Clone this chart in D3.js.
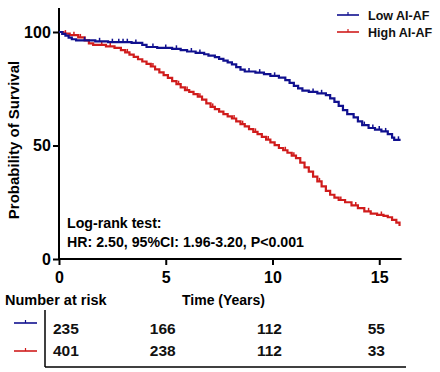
<!DOCTYPE html>
<html><head><meta charset="utf-8">
<script src="https://cdn.jsdelivr.net/npm/d3@7"></script>
<style>html,body{margin:0;padding:0;background:#fff}svg{display:block}</style>
</head><body><svg id="c" width="440" height="372"></svg>
<script>
// ---- data ----
const seriesNames = ["Low AI-AF", "High AI-AF"];
const lowTimes = [0,0.15,0.3,0.45,0.6,0.8,1.7,2.3,3.4,3.9,4.1,4.6,5.3,5.7,6.0,6.4,6.8,7.0,7.3,7.5,7.7,7.9,8.1,8.3,8.5,8.7,9.2,9.6,9.9,10.3,10.6,10.8,11.0,11.2,11.4,11.7,12.1,12.5,12.7,12.9,13.1,13.3,13.5,13.8,14.0,14.2,14.5,14.8,15.1,15.4,15.6,15.7,16.0];
const lowSurv  = [100,99.2,98.4,97.5,96.8,96.3,95.9,95.5,95.2,94.3,93.4,93.0,92.6,92.0,91.4,90.8,90.2,89.6,88.9,88.2,87.4,86.6,85.7,84.5,83.4,82.6,82.1,81.4,80.7,79.9,78.8,77.6,76.3,75.2,74.2,73.6,73.0,72.2,70.8,69.2,67.5,65.6,63.8,62.4,60.6,59.0,57.7,57.0,56.2,55.0,53.5,52.5,52.5];
const highTimes = [0,0.2,0.5,0.9,1.2,1.4,1.6,2.2,2.6,2.9,3.1,3.3,3.5,3.7,3.9,4.1,4.3,4.5,4.7,4.9,5.1,5.3,5.5,5.7,5.9,6.1,6.3,6.5,6.7,6.9,7.1,7.3,7.5,7.7,7.9,8.1,8.3,8.5,8.7,8.9,9.1,9.3,9.5,9.7,9.9,10.1,10.3,10.5,10.7,10.9,11.1,11.3,11.5,11.7,11.9,12.1,12.3,12.5,12.7,12.9,13.1,13.4,13.7,14.0,14.3,14.6,14.9,15.2,15.4,15.6,15.8,15.95,16.0];
const highSurv  = [100,99.3,98.6,97.6,96.3,95.0,94.3,93.7,93.0,92.0,91.0,90.0,89.0,88.0,87.0,86.0,84.8,83.5,82.2,81.0,79.8,78.4,77.0,75.6,74.4,73.6,72.6,71.5,70.2,68.6,67.0,66.0,64.9,63.8,62.8,61.9,60.6,59.4,58.4,57.2,56.0,55.0,53.8,52.6,51.4,50.2,48.9,47.9,46.8,45.5,44.4,42.5,40.4,38.5,36.3,34.2,32.0,30.0,28.3,27.0,26.0,25.0,23.6,22.4,21.0,20.0,19.4,19.0,18.4,17.2,16.0,15.0,15.0];
const lowCensor  = [1.2,1.9,2.5,2.8,3.0,3.2,3.6,4.4,5.0,5.5,6.2,6.6,8.9,9.4,10.1,11.9,12.3,14.3,14.7,15.0,15.3,15.9];
const highCensor = [0.3,0.7,1.0,2.0,2.4,3.2,4.4,5.6,6.0,6.6,7.2,8.2,8.6,9.2,9.8,10.6,11.0,12.2,13.2,13.9,14.5,15.1];
const xTicks = [0, 5, 10, 15];
const yTicks = [0, 50, 100];
const riskLow  = [235, 166, 112, 55];
const riskHigh = [401, 238, 112, 33];
const colors = ["#10108f", "#d01c1c"];

// ---- drawing ----
const svg = d3.select("#c");
const FONT = "'Liberation Sans', Arial, sans-serif";
const x = d3.scaleLinear().domain([0, 16]).range([59, 400.6]);
const y = d3.scaleLinear().domain([0, 100]).range([259, 32]);

// axes
const xAxis = svg.append("g").attr("transform", "translate(0,259)")
  .call(d3.axisBottom(x).tickValues(xTicks).tickSize(6).tickSizeOuter(0).tickFormat(d3.format("d")));
const yAxis = svg.append("g").attr("transform", "translate(59,0)")
  .call(d3.axisLeft(y).tickValues(yTicks).tickSize(6).tickSizeOuter(0).tickFormat(d3.format("d")));
[xAxis, yAxis].forEach(a => {
  a.select(".domain").remove();
  a.selectAll("line").attr("stroke", "#000").attr("stroke-width", 2);
  a.selectAll("text").attr("font-family", FONT).attr("font-weight", "bold").attr("font-size", 16).attr("fill", "#000");
});
xAxis.selectAll("text").attr("dy", "0.95em");
yAxis.selectAll("text").attr("dx", "0.05em");
svg.append("line").attr("x1", 59).attr("x2", 59).attr("y1", 8).attr("y2", 260).attr("stroke", "#000").attr("stroke-width", 2);
svg.append("line").attr("x1", 58).attr("x2", x(16)+1).attr("y1", 259).attr("y2", 259).attr("stroke", "#000").attr("stroke-width", 2);

// y label
svg.append("text").attr("transform", "translate(19,140) rotate(-90)")
  .attr("text-anchor", "middle").attr("font-family", FONT).attr("font-weight", "bold").attr("font-size", 15)
  .text("Probability of Survival");

// curves
const line = d3.line().x(d => x(d[0])).y(d => y(d[1])).curve(d3.curveStepAfter);
const series = [
  {t: lowTimes, s: lowSurv, c: lowCensor, col: colors[0]},
  {t: highTimes, s: highSurv, c: highCensor, col: colors[1]}
];
[series[1], series[0]].forEach(sr => {
  const pts = sr.t.map((t, i) => [t, sr.s[i]]);
  svg.append("path").datum(pts).attr("d", line).attr("fill", "none")
    .attr("stroke", sr.col).attr("stroke-width", 2.2);
  const survAt = t => { let v = 100; sr.t.forEach((tt, i) => { if (tt <= t) v = sr.s[i]; }); return v; };
  svg.append("g").selectAll("line").data(sr.c).join("line")
    .attr("x1", d => x(d)).attr("x2", d => x(d))
    .attr("y1", d => y(survAt(d))).attr("y2", d => y(survAt(d)) - 3.5)
    .attr("stroke", sr.col).attr("stroke-width", 1.5);
});

// legend top right
seriesNames.forEach((n, i) => {
  const ly = 15 + i * 17;
  svg.append("line").attr("x1", 337).attr("x2", 359).attr("y1", ly).attr("y2", ly).attr("stroke", colors[i]).attr("stroke-width", 1.6);
  svg.append("line").attr("x1", 348).attr("x2", 348).attr("y1", ly).attr("y2", ly - 3).attr("stroke", colors[i]).attr("stroke-width", 1.2);
  svg.append("text").attr("x", 368).attr("y", ly + 5).attr("font-family", FONT).attr("font-weight", "bold")
    .attr("font-size", 12.5).attr("fill", "#111").text(n);
});

// annotation
svg.append("text").attr("x", 67).attr("y", 228).attr("font-family", FONT).attr("font-weight", "bold").attr("font-size", 14.2).text("Log-rank test:");
svg.append("text").attr("x", 67).attr("y", 247).attr("font-family", FONT).attr("font-weight", "bold").attr("font-size", 14.2).text("HR: 2.50, 95%CI: 1.96-3.20, P<0.001");

// titles below
svg.append("text").attr("x", 5).attr("y", 305).attr("font-family", FONT).attr("font-weight", "bold").attr("font-size", 14.5).text("Number at risk");
svg.append("text").attr("x", 182).attr("y", 305).attr("font-family", FONT).attr("font-weight", "bold").attr("font-size", 14).text("Time (Years)");

// risk table
svg.append("line").attr("x1", 45).attr("x2", 45).attr("y1", 310).attr("y2", 367).attr("stroke", "#000").attr("stroke-width", 1.5);
svg.append("line").attr("x1", 45).attr("x2", 406).attr("y1", 367).attr("y2", 367).attr("stroke", "#000").attr("stroke-width", 1.5);
[riskLow, riskHigh].forEach((row, i) => {
  const ry = 334 + i * 22;
  const my = 323 + i * 28;
  svg.append("line").attr("x1", 14).attr("x2", 37).attr("y1", my).attr("y2", my).attr("stroke", colors[i]).attr("stroke-width", 1.6);
  svg.append("line").attr("x1", 25.5).attr("x2", 25.5).attr("y1", my).attr("y2", my - 3).attr("stroke", colors[i]).attr("stroke-width", 1.2);
  svg.append("g").selectAll("text").data(row).join("text")
    .attr("x", (d, j) => j === 0 ? x(xTicks[j]) - 6 : x(xTicks[j]) - 3)
    .attr("y", ry)
    .attr("text-anchor", (d, j) => j === 0 ? "start" : "middle")
    .attr("font-family", FONT).attr("font-weight", "bold").attr("font-size", 15.5).attr("fill", "#111")
    .text(d => d);
});
</script></body></html>
